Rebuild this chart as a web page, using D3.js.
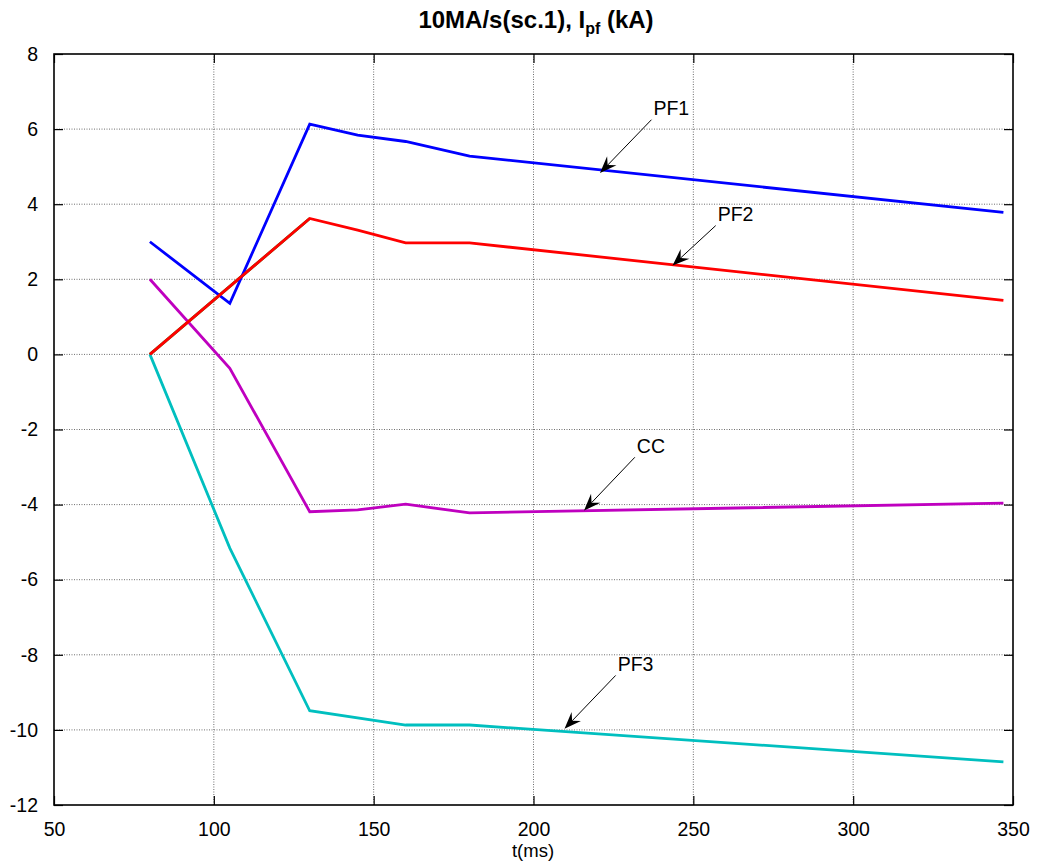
<!DOCTYPE html>
<html>
<head>
<meta charset="utf-8">
<script src="https://cdn.jsdelivr.net/npm/d3@7"></script>
<style>
  html, body { margin: 0; padding: 0; background: #fff; }
  svg { display: block; }
  text { font-family: Arial, "Liberation Sans", sans-serif; }
</style>
</head>
<body>
<svg id="chart" width="1045" height="863"></svg>
<script>
// ---- data ----
const xTicks = [50, 100, 150, 200, 250, 300, 350];
const yTicks = [-12, -10, -8, -6, -4, -2, 0, 2, 4, 6, 8];

const pf1X = [80, 105, 130, 145, 160, 180, 347];
const pf1Y = [3.0, 1.36, 6.13, 5.84, 5.67, 5.28, 3.78];

const pf2X = [80, 130, 145, 160, 180, 347];
const pf2Y = [0, 3.62, 3.31, 2.97, 2.97, 1.44];

const greenX = [80, 130];
const greenY = [0, 3.62];

const ccX = [80, 105, 130, 145, 160, 180, 347];
const ccY = [2.0, -0.37, -4.19, -4.14, -3.99, -4.22, -3.96];

const pf3X = [80, 105, 130, 160, 180, 347];
const pf3Y = [0, -5.16, -9.49, -9.87, -9.87, -10.85];

const annLabels = ["PF1", "PF2", "CC", "PF3"];
const annTailX = [236.9, 257.0, 231.7, 225.7];
const annTailY = [6.25, 3.43, -2.74, -8.55];
const annTipX  = [220.8, 243.5, 215.8, 209.7];
const annTipY  = [4.83, 2.37, -4.16, -9.97];

const titleMain = "10MA/s(sc.1), I";
const titleSub = "pf";
const titleEnd = " (kA)";
const xLabel = "t(ms)";

// ---- layout ----
const svg = d3.select("#chart");
const L = 54, R = 1013, T = 54, B = 805;
const x = d3.scaleLinear().domain([50, 350]).range([L, R]);
const y = d3.scaleLinear().domain([-12, 8]).range([B, T]);
const fmt = d => String(d);

// grid
const grid = svg.append("g");
grid.selectAll("line.gx").data(xTicks.slice(1, -1)).enter().append("line")
  .attr("x1", d => x(d)).attr("x2", d => x(d)).attr("y1", T).attr("y2", B)
  .attr("stroke", "#6e6e6e").attr("stroke-width", 1).attr("stroke-dasharray", "1,1.5");
grid.selectAll("line.gy").data(yTicks.slice(1, -1)).enter().append("line")
  .attr("y1", d => y(d)).attr("y2", d => y(d)).attr("x1", L).attr("x2", R)
  .attr("stroke", "#6e6e6e").attr("stroke-width", 1).attr("stroke-dasharray", "1,1.5");

// axes (MATLAB-style inward ticks on all sides)
const tickLen = 9;
const fs = 19.5;
svg.append("g").attr("transform", `translate(0,${B})`)
  .call(d3.axisBottom(x).tickValues(xTicks).tickFormat(fmt).tickSizeInner(-tickLen).tickSizeOuter(0).tickPadding(tickLen + 8))
  .call(g => g.select(".domain").remove())
  .call(g => g.selectAll("text").attr("font-size", fs).attr("font-family", "Arial, 'Liberation Sans', sans-serif").attr("fill", "#000"));
svg.append("g").attr("transform", `translate(0,${T})`)
  .call(d3.axisTop(x).tickValues(xTicks).tickSizeInner(-tickLen).tickSizeOuter(0).tickFormat(""))
  .call(g => g.select(".domain").remove());
svg.append("g").attr("transform", `translate(${L},0)`)
  .call(d3.axisLeft(y).tickValues(yTicks).tickFormat(fmt).tickSizeInner(-tickLen).tickSizeOuter(0).tickPadding(tickLen + 7))
  .call(g => g.select(".domain").remove())
  .call(g => g.selectAll("text").attr("font-size", fs).attr("font-family", "Arial, 'Liberation Sans', sans-serif").attr("fill", "#000"));
svg.append("g").attr("transform", `translate(${R},0)`)
  .call(d3.axisRight(y).tickValues(yTicks).tickSizeInner(-tickLen).tickSizeOuter(0).tickFormat(""))
  .call(g => g.select(".domain").remove());
svg.selectAll(".tick line").attr("stroke", "#000").attr("stroke-width", 1.2);

// series
const line = d3.line().x(d => x(d[0])).y(d => y(d[1]));
function series(xs, ys, color) {
  svg.append("path").datum(xs.map((v, i) => [v, ys[i]]))
    .attr("d", line).attr("fill", "none").attr("stroke", color)
    .attr("stroke-width", 2.8).attr("stroke-linejoin", "miter");
}
series(greenX, greenY, "#008000");
series(pf1X, pf1Y, "#0000ff");
series(ccX, ccY, "#bf00bf");
series(pf3X, pf3Y, "#00bfbf");
series(pf2X, pf2Y, "#ff0000");

// frame
svg.append("rect").attr("x", L).attr("y", T).attr("width", R - L).attr("height", B - T)
  .attr("fill", "none").attr("stroke", "#000").attr("stroke-width", 1.6);

// annotations
annLabels.forEach((lab, i) => {
  const x0 = x(annTailX[i]), y0 = y(annTailY[i]);
  const x1 = x(annTipX[i]), y1 = y(annTipY[i]);
  const ang = Math.atan2(y1 - y0, x1 - x0);
  const len = 17, half = 6.5, back = 11;
  const bx = x1 - len * Math.cos(ang), by = y1 - len * Math.sin(ang);
  const nx = -Math.sin(ang), ny = Math.cos(ang);
  const cx = x1 - back * Math.cos(ang), cy = y1 - back * Math.sin(ang);
  svg.append("line").attr("x1", x0).attr("y1", y0).attr("x2", cx).attr("y2", cy)
    .attr("stroke", "#000").attr("stroke-width", 1);
  svg.append("path")
    .attr("d", `M${x1},${y1} L${bx + nx * half},${by + ny * half} L${cx},${cy} L${bx - nx * half},${by - ny * half} Z`)
    .attr("fill", "#000");
  svg.append("text").attr("x", x0 + 2).attr("y", y0 - 4.5)
    .attr("font-size", fs).attr("fill", "#000").text(lab);
});

// title
const title = svg.append("text").attr("x", 536).attr("y", 28).attr("text-anchor", "middle")
  .attr("font-size", 24).attr("font-weight", "bold").attr("fill", "#000");
title.append("tspan").text(titleMain);
title.append("tspan").attr("font-size", 16).attr("dy", 6).text(titleSub);
title.append("tspan").attr("dy", -6).text(titleEnd);

// x label
svg.append("text").attr("x", 533).attr("y", 857).attr("text-anchor", "middle")
  .attr("font-size", 18.5).attr("fill", "#000").text(xLabel);
</script>
</body>
</html>
